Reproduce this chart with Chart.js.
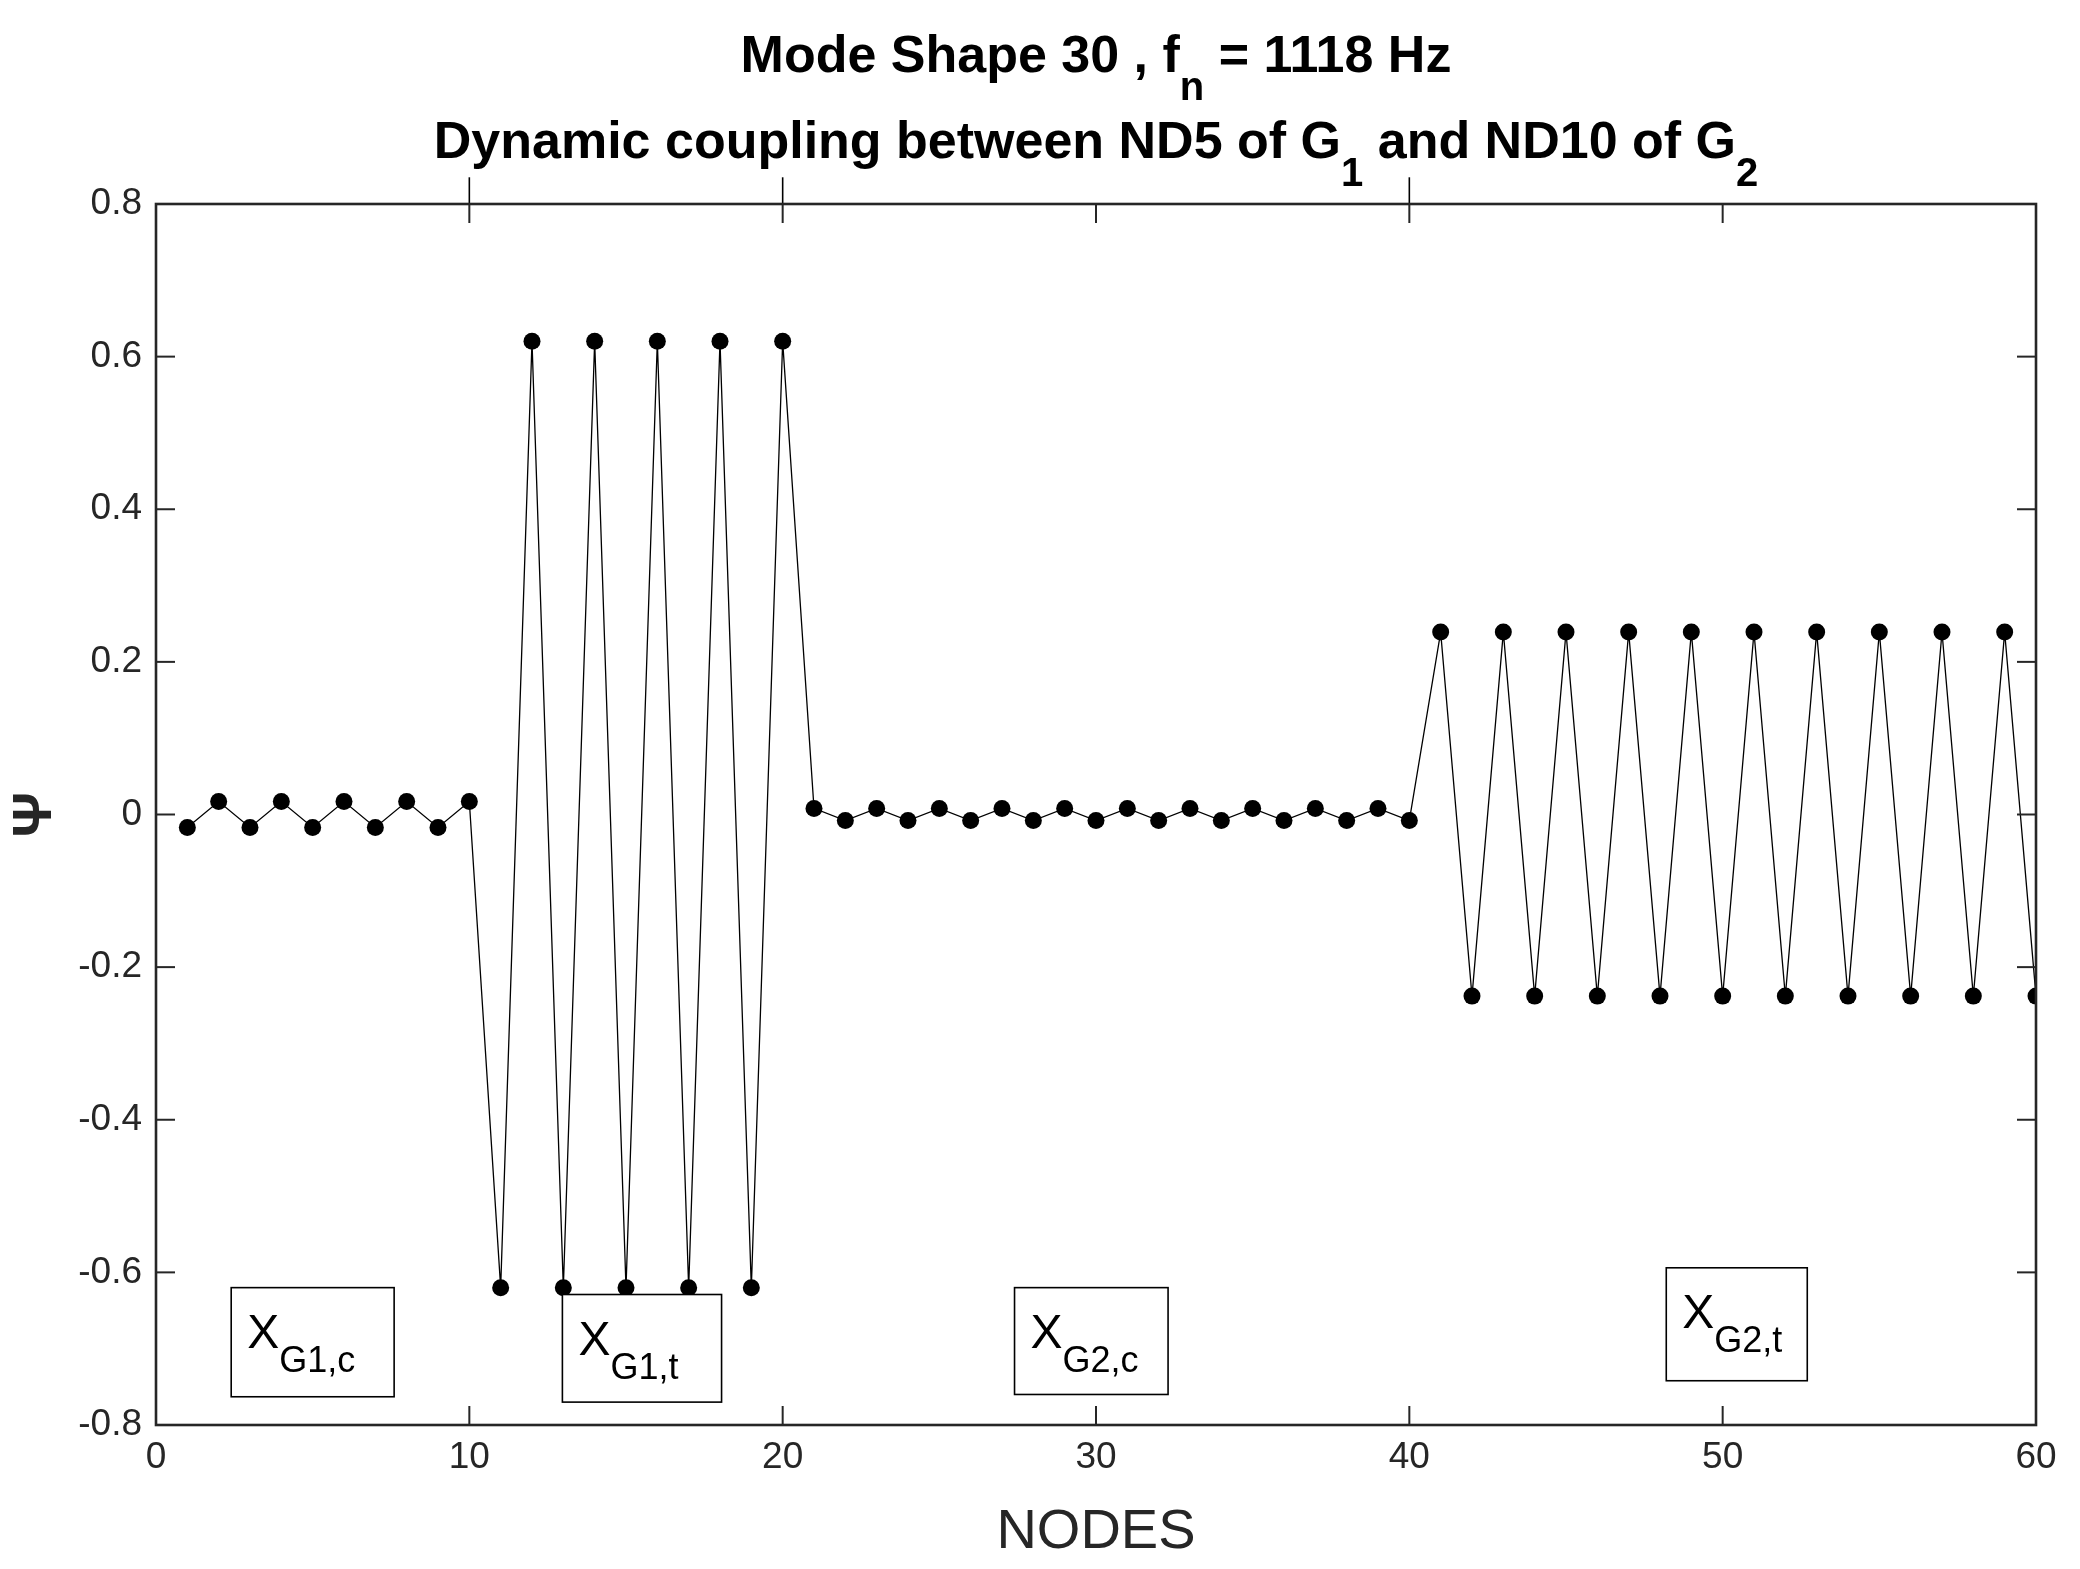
<!DOCTYPE html>
<html>
<head>
<meta charset="utf-8">
<script src="https://cdn.jsdelivr.net/npm/chart.js@4"></script>
<style>
  html, body { margin: 0; padding: 0; background: #fff; }
  #wrap { width: 2080px; height: 1569px; }
</style>
</head>
<body>
<div id="wrap"><canvas id="modeChart" width="2080" height="1569"></canvas></div>
<script>
const nodes = [1,2,3,4,5,6,7,8,9,10,11,12,13,14,15,16,17,18,19,20,
  21,22,23,24,25,26,27,28,29,30,31,32,33,34,35,36,37,38,39,40,
  41,42,43,44,45,46,47,48,49,50,51,52,53,54,55,56,57,58,59,60];
const psi = [
  -0.017, 0.017, -0.017, 0.017, -0.017, 0.017, -0.017, 0.017, -0.017, 0.017,
  -0.62, 0.62, -0.62, 0.62, -0.62, 0.62, -0.62, 0.62, -0.62, 0.62,
  0.008, -0.008, 0.008, -0.008, 0.008, -0.008, 0.008, -0.008, 0.008, -0.008,
  0.008, -0.008, 0.008, -0.008, 0.008, -0.008, 0.008, -0.008, 0.008, -0.008,
  0.239, -0.238, 0.239, -0.238, 0.239, -0.238, 0.239, -0.238, 0.239, -0.238,
  0.239, -0.238, 0.239, -0.238, 0.239, -0.238, 0.239, -0.238, 0.239, -0.238
];
const dividers = [10, 20, 40];
const dividerTop = 0.835;
const xTicks = [0, 10, 20, 30, 40, 50, 60];
const yTicks = [-0.8, -0.6, -0.4, -0.2, 0, 0.2, 0.4, 0.6, 0.8];
// region labels: [main, subscript, x1, x2, yTop, yBottom]
const regionLabels = [
  ['X', 'G1,c', 2.4, 7.6, -0.62, -0.763],
  ['X', 'G1,t', 12.97, 18.05, -0.629, -0.770],
  ['X', 'G2,c', 27.4, 32.3, -0.62, -0.76],
  ['X', 'G2,t', 48.2, 52.7, -0.594, -0.742]
];

const FONT = 'Arial, "Liberation Sans", Helvetica, sans-serif';

const modeData = nodes.map((n, i) => ({ x: n, y: psi[i] }));
const dividerSets = dividers.map(d => ({
  data: [{ x: d, y: -0.8 }, { x: d, y: 0.8 }],
  borderColor: '#000', borderWidth: 1.6, pointRadius: 0, order: 2
}));

const decor = {
  id: 'decor',
  afterDraw(chart) {
    const { ctx, chartArea: a, scales: { x, y } } = chart;
    ctx.save();
    // divider extensions above the axes
    ctx.strokeStyle = '#000'; ctx.lineWidth = 1.6;
    dividers.forEach(d => {
      const px = x.getPixelForValue(d);
      ctx.beginPath(); ctx.moveTo(px, a.top); ctx.lineTo(px, y.getPixelForValue(dividerTop)); ctx.stroke();
    });
    // box
    ctx.strokeStyle = '#262626';
    ctx.lineWidth = 2.6;
    ctx.strokeRect(a.left, a.top, a.right - a.left, a.bottom - a.top);
    // ticks inside
    ctx.lineWidth = 2;
    xTicks.forEach(t => {
      const px = x.getPixelForValue(t);
      ctx.beginPath(); ctx.moveTo(px, a.bottom); ctx.lineTo(px, a.bottom - 19); ctx.stroke();
      ctx.beginPath(); ctx.moveTo(px, a.top); ctx.lineTo(px, a.top + 19); ctx.stroke();
    });
    yTicks.forEach(t => {
      const py = y.getPixelForValue(t);
      ctx.beginPath(); ctx.moveTo(a.left, py); ctx.lineTo(a.left + 19, py); ctx.stroke();
      ctx.beginPath(); ctx.moveTo(a.right, py); ctx.lineTo(a.right - 19, py); ctx.stroke();
    });
    // tick labels
    ctx.fillStyle = '#262626';
    ctx.font = '37px ' + FONT;
    ctx.textAlign = 'center'; ctx.textBaseline = 'top';
    xTicks.forEach(t => ctx.fillText(String(t), x.getPixelForValue(t), a.bottom + 14));
    ctx.textAlign = 'right'; ctx.textBaseline = 'middle';
    yTicks.forEach(t => ctx.fillText(t === 0 ? '0' : t.toFixed(1), a.left - 14, y.getPixelForValue(t)));
    // axis labels
    ctx.font = '56px ' + FONT;
    ctx.textAlign = 'center'; ctx.textBaseline = 'middle';
    ctx.fillText('NODES', (a.left + a.right) / 2, 1533);
    ctx.save();
    ctx.translate(36, y.getPixelForValue(0));
    ctx.rotate(-Math.PI / 2);
    ctx.font = 'bold 56px ' + FONT;
    ctx.fillText('Ψ', 0, 0);
    ctx.restore();
    // title
    ctx.fillStyle = '#000';
    ctx.textBaseline = 'alphabetic';
    const cx = (a.left + a.right) / 2;
    const big = 'bold 52px ' + FONT, small = 'bold 40px ' + FONT;
    function richLine(parts, baseY) {
      let w = 0;
      parts.forEach(p => { ctx.font = p[1] ? small : big; w += ctx.measureText(p[0]).width; });
      let px = cx - w / 2;
      ctx.textAlign = 'left';
      parts.forEach(p => {
        ctx.font = p[1] ? small : big;
        ctx.fillText(p[0], px, baseY + (p[1] ? 28 : 0));
        px += ctx.measureText(p[0]).width;
      });
    }
    richLine([['Mode Shape 30 , f', 0], ['n', 1], [' = 1118 Hz', 0]], 72);
    richLine([['Dynamic coupling between ND5 of G', 0], ['1', 1], [' and ND10 of G', 0], ['2', 1]], 158);
    // region label boxes
    regionLabels.forEach(r => {
      const x1 = x.getPixelForValue(r[2]), x2 = x.getPixelForValue(r[3]);
      const y1 = y.getPixelForValue(r[4]), y2 = y.getPixelForValue(r[5]);
      ctx.fillStyle = '#fff';
      ctx.fillRect(x1, y1, x2 - x1, y2 - y1);
      ctx.strokeStyle = '#000'; ctx.lineWidth = 1.6;
      ctx.strokeRect(x1, y1, x2 - x1, y2 - y1);
      ctx.fillStyle = '#000';
      ctx.textAlign = 'left';
      ctx.font = '48px ' + FONT;
      const mx = x1 + 16, my = y1 + 60;
      ctx.fillText(r[0], mx, my);
      const mw = ctx.measureText(r[0]).width;
      ctx.font = '36px ' + FONT;
      ctx.fillText(r[1], mx + mw, my + 24);
    });
    ctx.restore();
  }
};

new Chart(document.getElementById('modeChart'), {
  type: 'scatter',
  data: {
    datasets: [{
      data: modeData,
      showLine: true,
      borderColor: '#000',
      borderWidth: 1.3,
      backgroundColor: '#000',
      pointRadius: 8.5,
      pointBorderWidth: 0,
      order: 1
    }, ...dividerSets]
  },
  options: {
    responsive: false,
    animation: false,
    layout: { padding: { top: 204, right: 44, left: 0, bottom: 0 } },
    plugins: { legend: { display: false }, tooltip: { enabled: false } },
    scales: {
      x: {
        type: 'linear', min: 0, max: 60,
        grid: { display: false }, border: { display: false },
        ticks: { display: false },
        afterFit(s) { s.height = 144; }
      },
      y: {
        min: -0.8, max: 0.8,
        grid: { display: false }, border: { display: false },
        ticks: { display: false },
        afterFit(s) { s.width = 156; }
      }
    }
  },
  plugins: [decor]
});
</script>
</body>
</html>
